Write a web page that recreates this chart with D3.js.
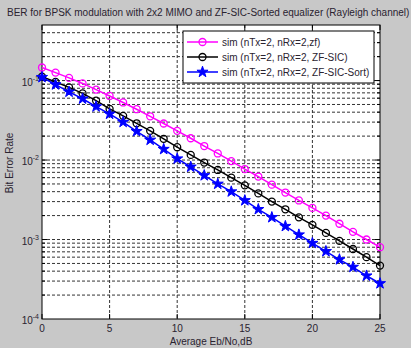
<!DOCTYPE html>
<html>
  <head>
    <meta charset="utf-8">
    <title>BER 2x2 MIMO</title>
    <style>
      body { margin: 0; background: #c8c8c8; }
      svg { display: block; }
      text { font-family: "Liberation Sans", Arial, sans-serif; fill: #2a2330; }
      .grid line { stroke: #333; stroke-width: 1; stroke-dasharray: 3,2; }
    </style>
    <script src="https://cdn.jsdelivr.net/npm/d3@7"></script>
  </head>
  <body>
    <svg id="chart" width="411" height="348"></svg>
    <script>
      // Eb/No in dB
      var ebno = [0,1,2,3,4,5,6,7,8,9,10,11,12,13,14,15,16,17,18,19,20,21,22,23,24,25];

      var berZf = [0.146,0.126,0.108,0.092,0.077,0.064,0.053,0.0436,0.0355,0.0288,0.0233,0.0188,0.0150,
                   0.0121,0.0097,0.0077,0.0062,0.0049,0.0039,0.0031,0.0025,0.0020,0.00158,0.00125,0.00100,0.00080];
      var berSic = [0.112,0.096,0.082,0.069,0.056,0.044,0.036,0.029,0.0233,0.0185,0.0145,0.0116,0.0093,
                    0.0075,0.0060,0.0048,0.0038,0.0030,0.0024,0.0019,0.00153,0.00121,0.00096,0.00076,0.00060,0.00047];
      var berSort = [0.110,0.089,0.072,0.059,0.047,0.038,0.030,0.023,0.0179,0.0137,0.0104,0.0082,0.0064,
                     0.0050,0.0040,0.0031,0.0024,0.0019,0.00147,0.00115,0.00090,0.00071,0.00056,0.00045,0.00035,0.00028];

      var xTicks = [0,5,10,15,20,25];
      var yTicks = [1e-4,1e-3,1e-2,1e-1];
      var yTickExp = ["-4","-3","-2","-1"];

      var titleText = "BER for BPSK modulation with 2x2 MIMO and ZF-SIC-Sorted equalizer (Rayleigh channel)";
      var seriesNames = ["sim (nTx=2, nRx=2,zf)", "sim (nTx=2, nRx=2, ZF-SIC)", "sim (nTx=2, nRx=2, ZF-SIC-Sort)"];

      var pL = 42, pR = 380, pT = 25, pB = 319;
      var svg = d3.select("#chart");

      var x = d3.scaleLinear().domain([0, 25]).range([pL, pR]);
      var y = d3.scaleLog().domain([1e-4, 0.5]).range([pB, pT]);

      svg.append("rect")
         .attr("x", pL).attr("y", pT)
         .attr("width", pR - pL).attr("height", pB - pT)
         .attr("fill", "white");

      // minor + major log gridlines
      var yGrid = [];
      for (var e = -4; e <= -1; e++) {
        for (var m = 1; m <= 9; m++) {
          var v = m * Math.pow(10, e);
          if (v > 1e-4 && v < 0.5) yGrid.push(v);
        }
      }
      var grid = svg.append("g").attr("class", "grid");
      grid.selectAll(".gy").data(yGrid).enter().append("line")
          .attr("x1", pL).attr("x2", pR)
          .attr("y1", function(d) { return y(d); })
          .attr("y2", function(d) { return y(d); });
      grid.selectAll(".gx").data(xTicks.slice(1, -1)).enter().append("line")
          .attr("y1", pT).attr("y2", pB)
          .attr("x1", function(d) { return x(d); })
          .attr("x2", function(d) { return x(d); });

      // inward ticks
      var ticks = svg.append("g").attr("stroke", "#000").attr("stroke-width", 1);
      yGrid.forEach(function(d) {
        var len = yTicks.indexOf(d) >= 0 ? 5 : 3;
        ticks.append("line").attr("x1", pL).attr("x2", pL + len).attr("y1", y(d)).attr("y2", y(d));
        ticks.append("line").attr("x1", pR).attr("x2", pR - len).attr("y1", y(d)).attr("y2", y(d));
      });
      xTicks.forEach(function(d) {
        ticks.append("line").attr("x1", x(d)).attr("x2", x(d)).attr("y1", pB).attr("y2", pB - 5);
        ticks.append("line").attr("x1", x(d)).attr("x2", x(d)).attr("y1", pT).attr("y2", pT + 5);
      });

      svg.append("rect")
         .attr("x", pL).attr("y", pT)
         .attr("width", pR - pL).attr("height", pB - pT)
         .attr("fill", "none").attr("stroke", "#000");

      // tick labels
      svg.selectAll(".xl").data(xTicks).enter().append("text")
         .attr("x", function(d) { return x(d); })
         .attr("y", pB + 13)
         .attr("text-anchor", "middle")
         .attr("font-size", 10)
         .text(function(d) { return d; });

      yTicks.forEach(function(d, i) {
        var t = svg.append("text")
                   .attr("x", pL - 3)
                   .attr("y", y(d) + 5)
                   .attr("text-anchor", "end")
                   .attr("font-size", 10);
        t.append("tspan").text("10");
        t.append("tspan").attr("font-size", 7).attr("dy", -5).text(yTickExp[i]);
      });

      // lines
      var series = [
        { vals: berZf, color: "#ff00ff", mark: "circle" },
        { vals: berSic, color: "#000000", mark: "circle" },
        { vals: berSort, color: "#0000ff", mark: "star" }
      ];
      var line = d3.line()
                   .x(function(d, i) { return x(ebno[i]); })
                   .y(function(d) { return y(d); });
      var star = d3.symbol().type(d3.symbolStar).size(38);

      series.forEach(function(s) {
        svg.append("path").datum(s.vals)
           .attr("d", line)
           .attr("fill", "none")
           .attr("stroke", s.color)
           .attr("stroke-width", 1.5);
        if (s.mark == "circle") {
          svg.selectAll(null).data(s.vals).enter().append("circle")
             .attr("cx", function(d, i) { return x(ebno[i]); })
             .attr("cy", function(d) { return y(d); })
             .attr("r", 3.5)
             .attr("fill", "none")
             .attr("stroke", s.color)
             .attr("stroke-width", 1.3);
        } else {
          svg.selectAll(null).data(s.vals).enter().append("path")
             .attr("d", star)
             .attr("transform", function(d, i) { return "translate(" + x(ebno[i]) + "," + y(d) + ")"; })
             .attr("fill", s.color)
             .attr("stroke", s.color)
             .attr("stroke-width", 1);
        }
      });

      // legend
      var lg = svg.append("g");
      lg.append("rect")
        .attr("x", 183).attr("y", 31).attr("width", 191).attr("height", 52)
        .attr("fill", "white").attr("stroke", "#000");
      seriesNames.forEach(function(name, i) {
        var ly = 42 + i * 15;
        var s = series[i];
        lg.append("line").attr("x1", 187).attr("x2", 218).attr("y1", ly).attr("y2", ly)
          .attr("stroke", s.color).attr("stroke-width", 1.5);
        if (s.mark == "circle") {
          lg.append("circle").attr("cx", 202.5).attr("cy", ly).attr("r", 3.5)
            .attr("fill", "none").attr("stroke", s.color).attr("stroke-width", 1.3);
        } else {
          lg.append("path").attr("d", star).attr("transform", "translate(202.5," + ly + ")")
            .attr("fill", s.color).attr("stroke", s.color);
        }
        lg.append("text").attr("x", 222).attr("y", ly + 3.5).attr("font-size", 10).text(name);
      });

      // title and axis labels
      svg.append("text")
         .attr("x", 7).attr("y", 16)
         .attr("font-size", 10)
         .text(titleText);
      svg.append("text")
         .attr("x", (pL + pR) / 2).attr("y", 345)
         .attr("text-anchor", "middle")
         .attr("font-size", 10)
         .text("Average Eb/No,dB");
      svg.append("text")
         .attr("transform", "translate(13," + 163 + ") rotate(-90)")
         .attr("text-anchor", "middle")
         .attr("font-size", 10)
         .text("Bit Error Rate");
    </script>
  </body>
</html>
